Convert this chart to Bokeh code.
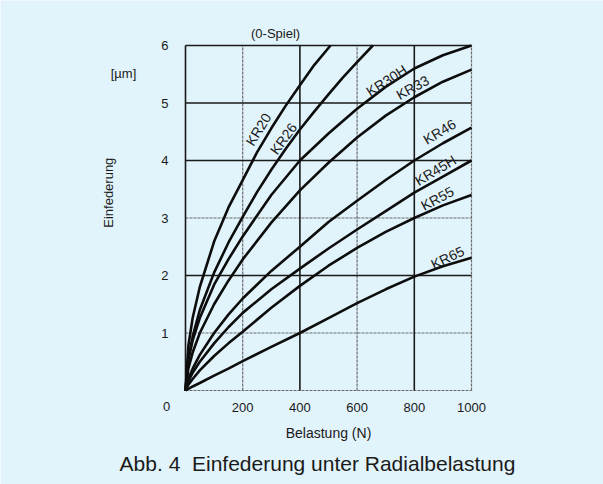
from bokeh.plotting import figure
from bokeh.models import Range1d, FixedTicker, Label, LinearAxis
from bokeh.embed import file_html
from bokeh.resources import INLINE

# ---- data ----
load_kr20 = [0, 10, 25, 50, 100, 150, 200, 250, 300, 350, 400, 450, 507]
kr20 = [0, 0.78, 1.26, 1.80, 2.59, 3.18, 3.66, 4.14, 4.56, 4.95, 5.31, 5.66, 6.0]

load_kr26 = [0, 10, 25, 50, 100, 150, 200, 250, 300, 350, 400, 450, 500, 550, 600, 655]
kr26 = [0, 0.56, 0.94, 1.40, 2.05, 2.57, 3.02, 3.45, 3.84, 4.2, 4.54, 4.85, 5.15, 5.44, 5.71, 6.0]

load = [0, 10, 25, 50, 100, 150, 200, 300, 400, 500, 600, 700, 800, 900, 1000]
kr30h = [0, 0.53, 0.87, 1.26, 1.84, 2.28, 2.68, 3.4, 4.0, 4.47, 4.9, 5.28, 5.6, 5.83, 6.0]
kr33 = [0, 0.38, 0.66, 1.00, 1.5, 1.91, 2.28, 2.92, 3.48, 3.96, 4.40, 4.78, 5.1, 5.37, 5.58]
kr46 = [0, 0.2, 0.38, 0.62, 1.0, 1.32, 1.6, 2.08, 2.5, 2.93, 3.3, 3.66, 4.0, 4.3, 4.57]
kr45h = [0, 0.16, 0.31, 0.5, 0.82, 1.1, 1.35, 1.76, 2.12, 2.47, 2.8, 3.12, 3.44, 3.72, 4.0]
kr55 = [0, 0.10, 0.20, 0.35, 0.6, 0.82, 1.02, 1.44, 1.82, 2.17, 2.48, 2.76, 3.0, 3.22, 3.4]
kr65 = [0, 0.03, 0.07, 0.13, 0.26, 0.38, 0.51, 0.76, 1.0, 1.26, 1.52, 1.76, 1.98, 2.16, 2.31]

series_names = ["KR20", "KR26", "KR30H", "KR33", "KR46", "KR45H", "KR55", "KR65"]

x_ticks = [200, 400, 600, 800, 1000]
y_ticks = [1, 2, 3, 4, 5, 6]
grid_x_dark = [0, 400, 800]
grid_x_grey = [200, 600, 1000]
grid_y_dark = [2, 4, 5, 6]
grid_y_grey = [0, 1, 3]
x_min, x_max = 0, 1000
y_min, y_max = 0, 6

title_text = "(0-Spiel)"
unit_text = "[µm]"
y_title = "Einfederung"
x_title = "Belastung (N)"
caption = "Abb. 4\u00a0 Einfederung unter Radialbelastung"

# ---- layout / styling ----
BG = "#E1F3FB"
FONT = "Liberation Sans"
INK = "#1a1a1a"
GREY = "#6a6a6a"
W, H = 603, 484
# pixel position of the chart box inside the canvas
FL, FR, FT, FB = 185, 471, 45, 390
sx = (FR - FL) / (x_max - x_min)
sy = (FB - FT) / (y_max - y_min)
xr = Range1d(x_min - FL / sx, x_max + (W - FR) / sx)
yr = Range1d(y_min - (H - FB) / sy, y_max + FT / sy)

p = figure(width=W, height=H, output_backend="svg", toolbar_location=None,
           x_range=xr, y_range=yr, x_axis_location=None, y_axis_location=None,
           min_border=0)
p.background_fill_color = BG
p.border_fill_color = BG
p.outline_line_color = None
p.xgrid.visible = False
p.ygrid.visible = False

# axes fixed at the chart box edges
xa = LinearAxis(fixed_location=y_min, ticker=FixedTicker(ticks=x_ticks))
ya = LinearAxis(fixed_location=x_min, ticker=FixedTicker(ticks=y_ticks))
for ax in (xa, ya):
    ax.axis_line_color = None
    ax.major_tick_line_color = None
    ax.minor_tick_line_color = None
    ax.major_label_text_font = FONT
    ax.major_label_text_font_size = "13px"
    ax.major_label_text_color = INK
xa.major_label_standoff = 6
ya.major_label_standoff = 11
p.add_layout(xa, "below")
p.add_layout(ya, "left")

# grid / box
p.segment(x0=grid_x_grey, y0=[y_min] * 3, x1=grid_x_grey, y1=[y_max] * 3,
          line_color=GREY, line_width=1.2, line_dash="3 1")
p.segment(x0=[x_min] * 3, y0=grid_y_grey, x1=[x_max] * 3, y1=grid_y_grey,
          line_color=GREY, line_width=1.2, line_dash="3 1")
p.segment(x0=grid_x_dark, y0=[y_min] * 3, x1=grid_x_dark, y1=[y_max] * 3,
          line_color=INK, line_width=1.6)
p.segment(x0=[x_min] * 4, y0=grid_y_dark, x1=[x_max] * 4, y1=grid_y_dark,
          line_color=INK, line_width=1.6)

curves = [(load_kr20, kr20), (load_kr26, kr26), (load, kr30h), (load, kr33),
          (load, kr46), (load, kr45h), (load, kr55), (load, kr65)]
for xs, ys in curves:
    p.line(xs, ys, line_color="#0d0d0d", line_width=2.6)

# curve labels (position in data units, angle in degrees)
label_pos = {
    "KR20": (255, 4.54, 58),
    "KR26": (343, 4.38, 54),
    "KR30H": (703, 5.39, 33),
    "KR33": (794, 5.27, 29),
    "KR46": (888, 4.50, 31),
    "KR45H": (874, 3.83, 31),
    "KR55": (881, 3.34, 28),
    "KR65": (916, 2.31, 26),
}

def add_text(text, x, y, xo=0, yo=0, size="13px", angle=0):
    p.add_layout(Label(x=x, y=y, x_offset=xo, y_offset=yo, text=text,
                       angle=angle, angle_units="deg",
                       text_align="center", text_baseline="middle",
                       text_font=FONT, text_font_size=size, text_color=INK))

for name in series_names:
    lx, ly, ang = label_pos[name]
    add_text(name, lx, ly, size="14px", angle=ang)

add_text("0", x_min, y_min, xo=-19, yo=-16)
add_text(title_text, 315, y_max, yo=12)
add_text(unit_text, x_min, 5.51, xo=-62)
add_text(y_title, x_min, 3.44, xo=-77, angle=90)
add_text(x_title, 500, y_min, yo=-42, size="14px")
add_text(caption, 461.5, y_min, yo=-73, size="21px")

open("out.html", "w").write(file_html(p, INLINE))
